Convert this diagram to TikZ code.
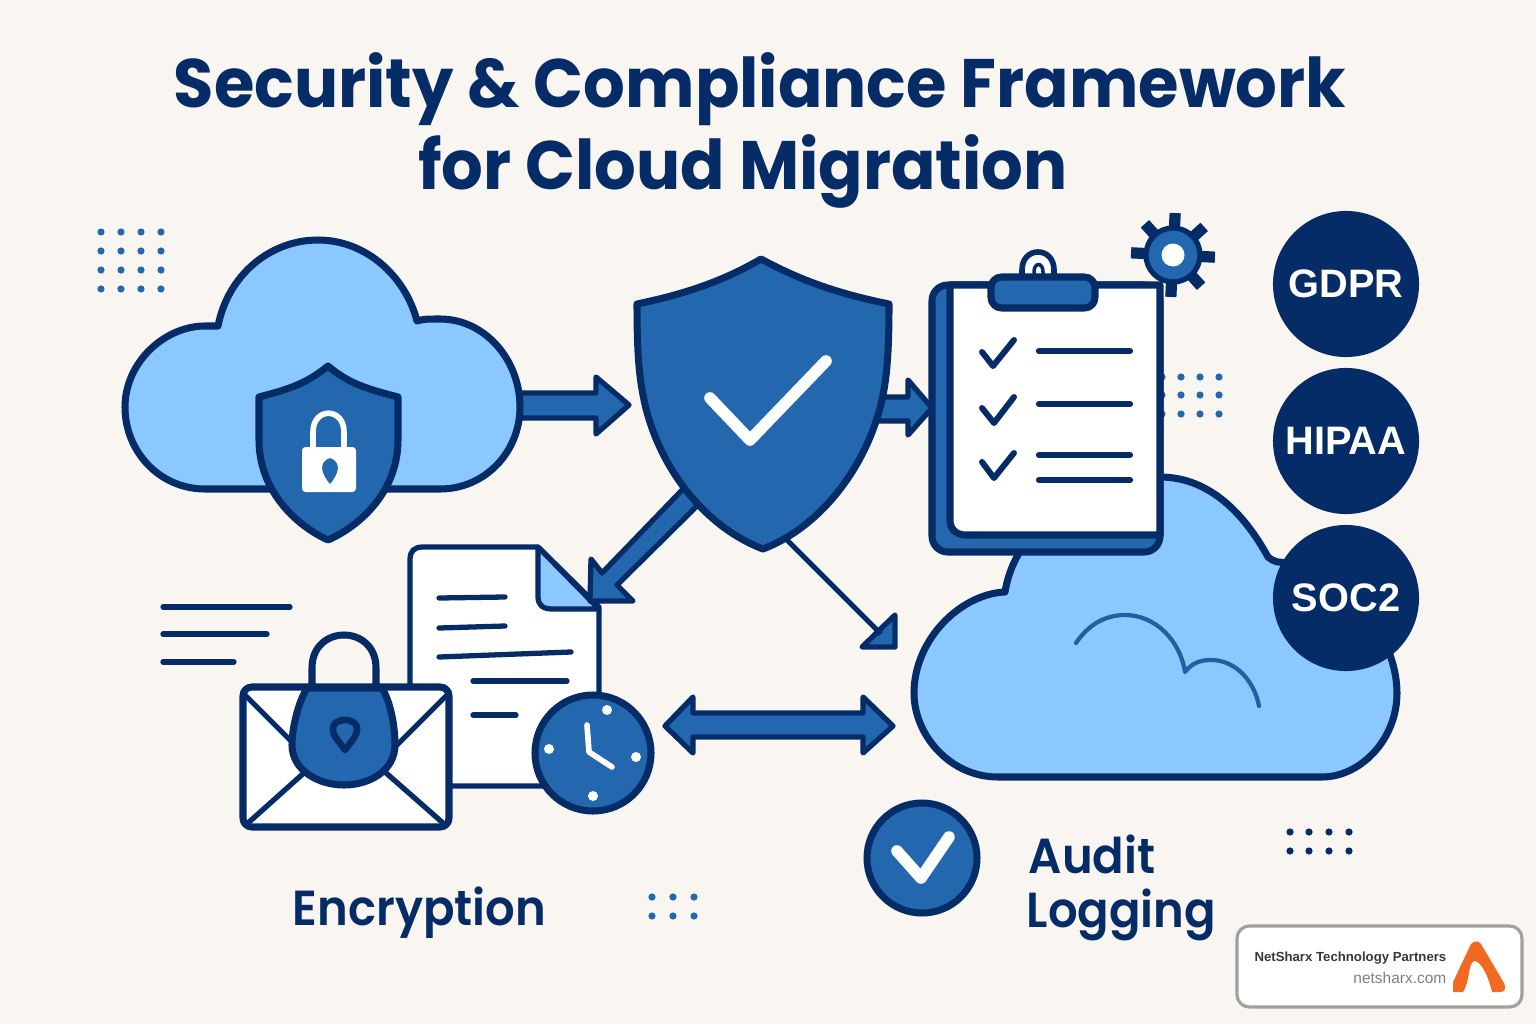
\documentclass[tikz,border=0pt]{standalone}
\usepackage{fontspec}
\setmainfont{Liberation Sans}
\newfontfamily\titlefont[FakeStretch=0.956]{Poppins Bold}
\newfontfamily\labelfont[FakeStretch=0.945]{Poppins SemiBold}
\usetikzlibrary{calc}

\definecolor{paper}{HTML}{F9F6F1}
\definecolor{navy}{HTML}{052C66}
\definecolor{midblue}{HTML}{2368AE}
\definecolor{skyblue}{HTML}{8AC8FD}
\definecolor{brandorange}{HTML}{F26A21}

\begin{document}
\begin{tikzpicture}[x=0.01cm,y=-0.01cm]
% ---------------------------------------------------------
% Styles
% ---------------------------------------------------------
\tikzset{
  outline/.style={draw=navy, line width=2pt, line join=round},
  blue part/.style={outline, fill=midblue},
  sky part/.style={outline, fill=skyblue},
  white part/.style={outline, fill=white},
  arrow part/.style={draw=navy, fill=midblue, line width=1.5pt, line join=round},
  text line/.style={navy, line width=1.5pt, line cap=round},
  tick line/.style={navy, line width=1.7pt, line cap=round, line join=round},
  white tick/.style={white, line width=3.3pt, line cap=round, line join=round},
  badge circle/.style={circle, fill=navy, minimum size=1.46cm, inner sep=0pt,
    text=white, font=\bfseries\fontsize{11.3}{12}\selectfont},
  big label/.style={text=navy, inner sep=0pt, anchor=base west,
    font=\labelfont\fontsize{14}{15}\selectfont}
}

% =========================================================
% 1) BACKGROUND AND TITLE
% =========================================================
\fill[paper] (0,0) rectangle (1536,1024);
\useasboundingbox (0,0) rectangle (1536,1024);

\node[text=navy, inner sep=0pt, anchor=base, font=\titlefont\fontsize{19.5}{20}\selectfont]
  (titleA) at (760,107) {Security \& Compliance Framework};
\node[text=navy, inner sep=0pt, anchor=base, font=\titlefont\fontsize{19.5}{20}\selectfont]
  (titleB) at (743,189) {for Cloud Migration};

% =========================================================
% 2) DOT PATCHES
% =========================================================
\foreach \x in {101,121,141,161}
  \foreach \y in {232,251,270,289}
    \fill[midblue] (\x,\y) circle (3.6);
\foreach \x in {1162,1181,1200,1219}
  \foreach \y in {377,395,414}
    \fill[midblue] (\x,\y) circle (3.6);
\foreach \x in {652,673,694}
  \foreach \y in {897,916}
    \fill[midblue] (\x,\y) circle (3.6);
\foreach \x in {1290,1309,1329,1349}
  \foreach \y in {832,851}
    \fill[navy] (\x,\y) circle (3.6);

% =========================================================
% 3) ARROWS BEHIND THE ICONS
% =========================================================
% Cloud to shield
\draw[arrow part] (510,393) -- (596,393) -- (596,377) -- (629,405)
  -- (596,434) -- (596,418) -- (510,418) -- cycle;
% Shield to clipboard
\draw[arrow part] (870,397) -- (908,397) -- (908,380) -- (932,408)
  -- (908,435) -- (908,421) -- (870,421) -- cycle;
% Two-way arrow
\draw[arrow part] (665,726) -- (693,697) -- (693,713) -- (863,713) -- (863,697)
  -- (893,726) -- (863,753) -- (863,737) -- (693,737) -- (693,753) -- cycle;

% =========================================================
% 4) LEFT CLOUD WITH LOCK SHIELD
% =========================================================
\draw[sky part] (205,489) .. controls (160,489) and (125,452) .. (125,407)
  .. controls (125,362) and (165,326) .. (205,326) -- (218,326)
  .. controls (228,275) and (270,240) .. (318,240)
  .. controls (365,240) and (405,275) .. (417,321)
  .. controls (425,319) .. (440,319)
  .. controls (485,319) and (520,360) .. (520,407)
  .. controls (520,452) and (485,489) .. (440,489) -- cycle;

\draw[blue part] (328,366) .. controls (305,385) and (285,390) .. (259,397)
  -- (259,440) .. controls (259,490) and (295,525) .. (328,540)
  .. controls (362,525) and (398,490) .. (398,440) -- (398,397)
  .. controls (372,390) and (350,385) .. (328,366) -- cycle;

\draw[white, line width=1.6pt] (313,448) -- (313,432)
  .. controls (313,407) and (344,407) .. (344,432) -- (344,448);
\fill[white, rounded corners=1pt] (302,447) -- (356,447) -- (356,492) -- (302,492) -- cycle;
\fill[midblue] (330,458) .. controls (341,462) and (340,472) .. (330,484)
  .. controls (320,472) and (319,462) .. (330,458) -- cycle;

% =========================================================
% 5) RIGHT CLOUD
% =========================================================
\draw[sky part] (998,777) .. controls (950,777) and (914,735) .. (914,693)
  .. controls (914,640) and (960,594) .. (1005,592)
  .. controls (1010,560) and (1030,530) .. (1060,510) -- (1100,490)
  .. controls (1120,480) and (1140,477) .. (1160,477)
  .. controls (1210,477) and (1245,515) .. (1268,557)
  .. controls (1275,562) .. (1290,563)
  .. controls (1350,570) and (1397,640) .. (1397,693)
  .. controls (1397,740) and (1360,777) .. (1322,777) -- cycle;

\draw[midblue!85!navy, line width=1.2pt, line cap=round, line join=round]
  (1076,643) .. controls (1088,625) and (1105,615) .. (1125,615)
  .. controls (1155,615) and (1180,640) .. (1185,672)
  .. controls (1192,663) and (1200,660) .. (1211,660)
  .. controls (1235,660) and (1254,680) .. (1259,706);

% =========================================================
% 6) STANDARD BADGES
% =========================================================
\node[badge circle] (gdpr) at (1346,284) {GDPR};
\node[badge circle] (hipaa) at (1346,441) {HIPAA};
\node[badge circle] (soc) at (1346,598) {SOC2};

% =========================================================
% 7) CLIPBOARD AND GEAR
% =========================================================
\draw[blue part, rounded corners=4.5pt] (932,285) rectangle (1160,552);
\draw[white part] (950,285) -- (1160,285) -- (1160,535) -- (966,535)
  .. controls (956,535) and (950,529) .. (950,520) -- cycle;
\draw[outline, fill=white, line width=1.6pt] (1022,280) -- (1022,270)
  .. controls (1022,246) and (1054,246) .. (1054,270) -- (1054,280);
\draw[navy, line width=1pt] (1034,278) -- (1034,272)
  .. controls (1034,262) and (1043,262) .. (1043,272) -- (1043,278);
\draw[blue part, rounded corners=3pt] (991,277) rectangle (1095,308);

\draw[tick line] (982,352) -- (993,366) -- (1014,340);
\draw[tick line] (982,408) -- (994,423) -- (1014,397);
\draw[tick line] (982,462) -- (994,478) -- (1014,453);
\foreach \y in {351,404,455,480}
  \draw[text line, line width=1.8pt] (1039,\y) -- (1130,\y);

\foreach \a in {3,48,93,183,228,273,318}
  \draw[navy, line width=3.2pt] ({1173+24*cos(\a)},{255+24*sin(\a)})
    -- ({1173+42*cos(\a)},{255+42*sin(\a)});
\draw[outline, fill=midblue, line width=1.5pt] (1173,255) circle (27);
\fill[white] (1173,255) circle (11.5);

% =========================================================
% 8) DOCUMENT, ENVELOPE, CLOCK
% =========================================================
\foreach \y/\xe in {607/290,634/267,662/234}
  \draw[text line] (163,\y) -- (\xe,\y);

\draw[white part, line width=1.5pt] (410,560) .. controls (410,551) and (414,547) .. (423,547)
  -- (538,547) -- (599,607) -- (599,786) -- (410,786) -- cycle;
\draw[sky part, line width=1.5pt] (538,547) -- (538,597)
  .. controls (538,605) and (543,609) .. (552,609) -- (599,609) -- cycle;
\draw[text line] (439,598) -- (505,597);
\draw[text line] (439,628) -- (505,626);
\draw[text line] (439,657) -- (571,652);
\draw[text line] (473,681) -- (567,681);
\draw[text line] (473,715) -- (516,715);

% Envelope with padlock
\draw[navy, line width=2pt] (312,692) -- (312,668)
  .. controls (312,624) and (376,624) .. (376,668) -- (376,692);
\draw[white part, rounded corners=2.5pt] (243,687) rectangle (449,827);
\draw[navy, line width=1.5pt] (245,695) -- (300,750);
\draw[navy, line width=1.5pt] (447,695) -- (390,752);
\draw[navy, line width=1.5pt] (248,823) -- (305,772);
\draw[navy, line width=1.5pt] (443,823) -- (385,772);
\draw[blue part] (307,688) -- (382,688)
  .. controls (392,705) and (395,730) .. (395,745)
  .. controls (395,770) and (370,785) .. (344,785)
  .. controls (318,785) and (292,770) .. (292,745)
  .. controls (292,730) and (297,705) .. (307,688) -- cycle;
\draw[navy, line width=1.9pt, line join=round, fill=midblue]
  (345,750) -- (336,738) .. controls (328,725) and (337,720) .. (345,720)
  .. controls (353,720) and (362,725) .. (354,738) -- cycle;

% Clock
\draw[blue part] (593,753) circle (58);
\draw[white, line width=1.6pt, line cap=round, line join=round]
  (587,725) -- (589,752) -- (612,767);
\foreach \x/\y in {607/710,549/749,636/757,593/796}
  \fill[white] (\x,\y) circle (5);

% =========================================================
% 9) ARROWS OUT OF THE SHIELD, THEN THE SHIELD
% =========================================================
\draw[arrow part] (685,487) -- (602,573) -- (591,559) -- (590,601) -- (633,601)
  -- (617,585) -- (698,505) -- cycle;
\draw[arrow part] (895,615) -- (895,647) -- (862,647) -- cycle;
\draw[navy, line width=1.5pt] (785,538) -- (881,634);

\draw[blue part] (761,259) .. controls (720,283) and (680,295) .. (637,304)
  .. controls (637,340) and (638,370) .. (643,395)
  .. controls (655,460) and (700,525) .. (763,549)
  .. controls (825,525) and (870,460) .. (883,395)
  .. controls (888,370) and (889,340) .. (889,304)
  .. controls (845,295) and (805,283) .. (761,259) -- cycle;
\draw[white tick] (710,398) -- (750,440) -- (826,361);

% =========================================================
% 10) LABELS AND AUDIT CHECK
% =========================================================
\node[big label] (encryption) at (292,925) {Encryption};
\draw[blue part] (922,858) circle (55);
\draw[white tick] (897,851) -- (921,878) -- (949,837);
\node[big label] (audit) at (1028,873) {Audit};
\node[big label] (logging) at (1026,927) {Logging};

% =========================================================
% 11) PARTNER CARD
% =========================================================
\draw[draw=black!35!paper, fill=white, line width=0.9pt, rounded corners=3.5pt]
  (1237,926) rectangle (1522,1007);
\node[anchor=base east, inner sep=0pt, text=black!78, font=\bfseries\fontsize{3.75}{4}\selectfont]
  (partner) at (1447,961) {NetSharx Technology Partners};
\node[anchor=base east, inner sep=0pt, text=black!50, font=\fontsize{4.4}{5}\selectfont]
  (website) at (1447,983) {netsharx.com};
\fill[brandorange] (1471,944) .. controls (1475,940) and (1479,941) .. (1481,944)
  -- (1504,983) .. controls (1507,989) and (1504,992) .. (1500,992) -- (1492,992)
  .. controls (1488,975) and (1481,961) .. (1474,961)
  .. controls (1468,963) and (1470,982) .. (1463,992) -- (1453,992) -- (1453,982) -- cycle;
\end{tikzpicture}
\end{document}
